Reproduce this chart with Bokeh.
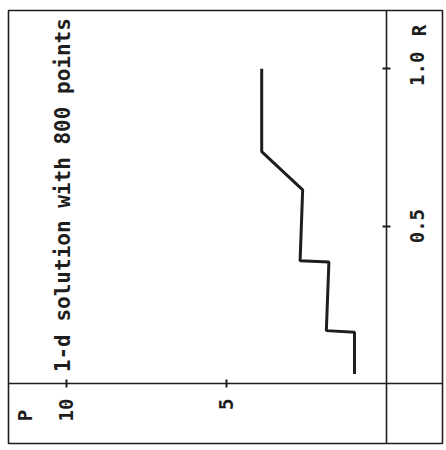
import math
from bokeh.plotting import figure
from bokeh.models import Range1d, LinearAxis, FixedTicker, PrintfTickFormatter, CustomJSTickFormatter
from bokeh.core.properties import value
from bokeh.embed import file_html
from bokeh.resources import INLINE

# data read from the (rotated) picture: R along the vertical axis, P along the horizontal one
R = [0.03, 0.163, 0.168, 0.386, 0.39, 0.615, 0.737, 1.0]
P = [1.0, 1.0, 1.88, 1.8, 2.7, 2.62, 3.9, 3.9]
p_ticks = [5, 10]
r_ticks = [0.5, 1.0]
title_text = "1-d solution with 800 points"
p_name = "P"
r_name = "R"

INK = "#1e1e1e"
FONT = "DejaVu Sans Mono"
LABEL_PX = 19
R_RANGE = (-0.1907, 1.1853)
PLOT_H = 446
FRAME_H = PLOT_H - 10 - 3

p = figure(width=445, height=PLOT_H, output_backend="svg", toolbar_location=None,
           x_range=Range1d(11.8125, -1.75), y_range=Range1d(*R_RANGE),
           x_axis_location=None, y_axis_location=None,
           min_border_left=8, min_border_right=3, min_border_top=10, min_border_bottom=3)
p.grid.visible = False
p.background_fill_color = "white"
p.border_fill_color = "white"
p.outline_line_color = INK
p.outline_line_width = 1.6


def style(ax):
    ax.axis_line_color = INK
    ax.axis_line_width = 1.6
    ax.major_tick_line_color = INK
    ax.major_tick_line_width = 2
    ax.major_tick_in = 4
    ax.major_tick_out = 4
    ax.minor_tick_line_color = None
    ax.major_label_text_font = FONT
    ax.major_label_text_font_style = "bold"
    ax.major_label_text_font_size = f"{LABEL_PX}px"
    ax.major_label_text_color = INK
    ax.major_label_orientation = math.pi / 2


# P axis (horizontal, through R = 0)
xa = LinearAxis(fixed_location=0, ticker=FixedTicker(ticks=p_ticks))
style(xa)
xa.major_label_standoff = 11
p.add_layout(xa, "below")

# R axis (vertical, through P = 0): line and tick marks
ya = LinearAxis(fixed_location=0, ticker=FixedTicker(ticks=r_ticks))
style(ya)
ya.major_label_text_color = None
p.add_layout(ya, "right")

# R tick labels, centred on their ticks (rotated labels start at their anchor)
half_len = 0.5 * 3 * 0.602 * LABEL_PX * (R_RANGE[1] - R_RANGE[0]) / FRAME_H
yl = LinearAxis(fixed_location=0, ticker=FixedTicker(ticks=[t - half_len for t in r_ticks]),
                formatter=CustomJSTickFormatter(args=dict(shift=half_len),
                                                code="return (tick + shift).toFixed(1)"))
style(yl)
yl.axis_line_color = None
yl.major_tick_line_color = None
yl.major_label_standoff = 27
p.add_layout(yl, "right")

p.line(P, R, line_color=INK, line_width=3)

p.text(x=[10.1], y=[0.036], text=[title_text], angle=math.pi / 2,
       text_font=value(FONT), text_font_style="bold", text_font_size="21px",
       text_color=INK, text_align="left", text_baseline="middle")
p.text(x=[11.3], y=[-0.1017], text=[p_name], angle=math.pi / 2,
       text_font=value(FONT), text_font_style="bold", text_font_size=f"{LABEL_PX}px",
       text_color=INK, text_align="center", text_baseline="middle")
p.text(x=[-1.0], y=[1.122], text=[r_name], angle=math.pi / 2,
       text_font=value(FONT), text_font_style="bold", text_font_size=f"{LABEL_PX}px",
       text_color=INK, text_align="center", text_baseline="middle")

open("out.html", "w").write(file_html(p, INLINE))
